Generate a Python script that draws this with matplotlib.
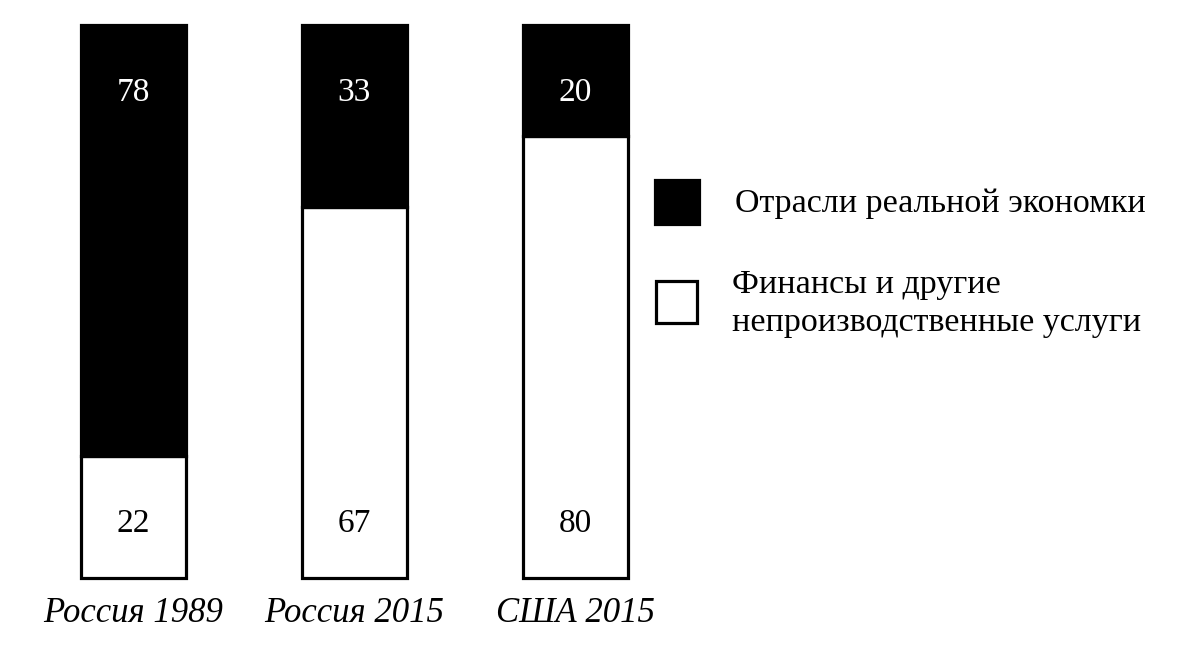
import numpy as np
import matplotlib.pyplot as plt
from matplotlib.patches import Rectangle

plt.rcParams['font.family'] = ['Liberation Serif', 'DejaVu Serif']

categories = ['Россия 1989', 'Россия 2015', 'США 2015']
services = [22, 67, 80]       # финансы и другие непроизводственные услуги
real_econ = [78, 33, 20]      # отрасли реальной экономики
legend_labels = ['Отрасли реальной экономки',
                 'Финансы и другие\nнепроизводственные услуги']

W, H = 1189, 662
fig = plt.figure(figsize=(W / 100, H / 100), dpi=100)
ax = fig.add_axes([0, 0, 1, 1])

# пиксельная разметка: центры столбцов 133, 354, 575, низ 578, верх 25
step = 221.0
ppu = (578 - 25) / 100.0
ax.set_xlim(-133 / step, (W - 133) / step)
ax.set_ylim(-(H - 578) / ppu, 100 + 25 / ppu)
ax.axis('off')

x = np.arange(len(categories))
width = 105 / step
lw = 2.3

ax.bar(x, services, width=width, color='white', edgecolor='black', linewidth=lw)
ax.bar(x, real_econ, bottom=services, width=width, color='black',
       edgecolor='black', linewidth=lw)

for xi, s, r in zip(x, services, real_econ):
    ax.text(xi, s + r - 12.3, str(r), color='white', ha='center', va='center',
            fontsize=24)
    ax.text(xi, 9.8, str(s), color='black', ha='center', va='center',
            fontsize=24)

for xi, c in zip(x, categories):
    ax.text(xi, -(614 - 578) / ppu, c, ha='center', va='center',
            fontsize=25, style='italic')

# легенда
def px(xp, yp):
    return ((xp - 133) / step, (578 - yp) / ppu)

x0, y0 = px(655, 224)
x1, y1 = px(699, 180)
ax.add_patch(Rectangle((x0, y0), x1 - x0, y1 - y0, facecolor='black',
                       edgecolor='black', linewidth=lw))
x0, y0 = px(656, 323)
x1, y1 = px(697, 281)
ax.add_patch(Rectangle((x0, y0), x1 - x0, y1 - y0, facecolor='white',
                       edgecolor='black', linewidth=lw))

tx, ty = px(735, 204)
ax.text(tx, ty, legend_labels[0], ha='left', va='center', fontsize=24.5)
tx, ty = px(732, 304)
ax.text(tx, ty, legend_labels[1], ha='left', va='center', fontsize=24.5,
        linespacing=1.3)

fig.savefig('out.png', dpi=100)
